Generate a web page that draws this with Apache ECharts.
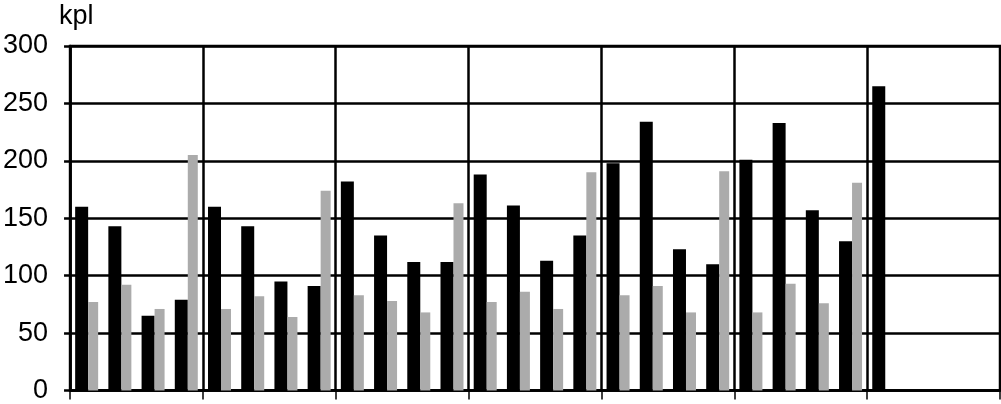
<!DOCTYPE html>
<html>
<head>
<meta charset="utf-8">
<script src="https://cdn.jsdelivr.net/npm/echarts@6/dist/echarts.min.js"></script>
<style>
  html, body { margin: 0; padding: 0; background: #fff; }
  #chart { width: 1001px; height: 404px; }
</style>
</head>
<body>
<div id="chart"></div>
<script>
// kvartaalit, 7 vuotta x 4 (viimeiseltä vuodelta vain yksi)
var categories = [
	'1/I', '1/II', '1/III', '1/IV',
	'2/I', '2/II', '2/III', '2/IV',
	'3/I', '3/II', '3/III', '3/IV',
	'4/I', '4/II', '4/III', '4/IV',
	'5/I', '5/II', '5/III', '5/IV',
	'6/I', '6/II', '6/III', '6/IV',
	'7/I', '7/II', '7/III', '7/IV'
];

// musta sarja
var blackValues = [
	160, 143, 65, 79,
	160, 143, 95, 91,
	182, 135, 112, 112,
	188, 161, 113, 135,
	198, 234, 123, 110,
	201, 233, 157, 130,
	265, null, null, null
];

// harmaa sarja
var grayValues = [
	77, 92, 71, 205,
	71, 82, 64, 174,
	83, 78, 68, 163,
	77, 86, 71, 190,
	83, 91, 68, 191,
	68, 93, 76, 181,
	null, null, null, null
];

var yTicks = { min: 0, max: 300, step: 50 };
var unitLabel = 'kpl';

var chart = echarts.init(document.getElementById('chart'));

var lineStyle = { color: '#000', width: 2.5 };

var option = {
	animation: false,
	backgroundColor: '#fff',
	title: {
		text: unitLabel,
		left: 54,
		top: -2,
		textStyle: {
			fontFamily: 'Liberation Sans',
			fontSize: 27,
			fontWeight: 'normal',
			color: '#000'
		}
	},
	grid: {
		left: 68,
		right: 1,
		top: 46,
		bottom: 12,
		show: true,
		borderColor: '#000',
		borderWidth: 2.5
	},
	xAxis: {
		type: 'category',
		data: categories,
		boundaryGap: true,
		axisLine: { show: true, lineStyle: lineStyle },
		axisTick: { show: true, interval: 3, length: 9, lineStyle: { color: '#000', width: 1.5 } },
		axisLabel: { show: false },
		splitLine: { show: true, interval: 3, lineStyle: lineStyle }
	},
	yAxis: {
		type: 'value',
		min: yTicks.min,
		max: yTicks.max,
		interval: yTicks.step,
		axisLine: { show: true, lineStyle: lineStyle },
		axisTick: { show: true, length: 6, lineStyle: lineStyle },
		axisLabel: {
			margin: 22,
			fontFamily: 'Liberation Sans',
			fontSize: 27,
			color: '#000'
		},
		splitLine: { show: true, lineStyle: lineStyle }
	},
	series: [
		{
			name: 'musta',
			type: 'bar',
			data: blackValues,
			barWidth: 13,
			barGap: '0%',
			itemStyle: { color: '#000' }
		},
		{
			name: 'harmaa',
			type: 'bar',
			data: grayValues,
			barWidth: 10,
			barGap: '0%',
			itemStyle: { color: '#ababab' }
		}
	]
};

chart.setOption(option);
</script>
</body>
</html>
